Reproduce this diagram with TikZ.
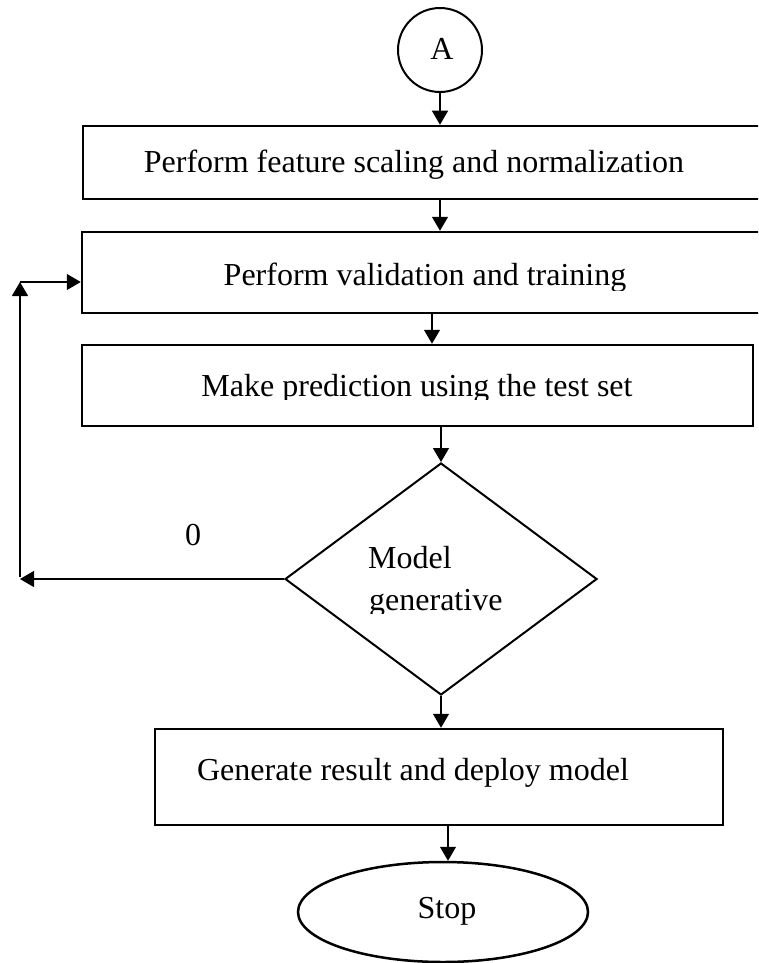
\documentclass[tikz,border=0pt]{standalone}
\usepackage{fontspec}
\setmainfont{Liberation Serif}
\usetikzlibrary{shapes.geometric,arrows.meta}
\begin{document}
\begin{tikzpicture}[x=1pt,y=-1pt,
  box/.style={draw,line width=2.5pt,rectangle,inner sep=0pt},
  arr/.style={line width=1.3pt,-{Triangle[width=16pt,length=14pt]}},
  txt/.style={font=\fontsize{32}{38}\selectfont,inner sep=0pt}]
\path[use as bounding box] (0,0) rectangle (758,963);
\clip (0,0) rectangle (758,963);
% shapes
\node[circle,draw,line width=2pt,minimum size=84pt,inner sep=0pt] (A) at (440,50) {};
\node[box,minimum width=687pt,minimum height=73pt] (b1) at (426.5,162.5) {};
\node[box,minimum width=688pt,minimum height=81pt] (b2) at (426,272.5) {};
\node[box,minimum width=671pt,minimum height=81pt] (b3) at (417.5,385.5) {};
\node[diamond,draw,line width=2pt,minimum width=312pt,minimum height=232pt,inner sep=0pt] (d) at (441,579) {};
\node[box,minimum width=568pt,minimum height=96pt] (b4) at (439,777) {};
\node[ellipse,draw,line width=2.5pt,minimum width=290pt,minimum height=100pt,inner sep=0pt] (stop) at (443,912) {};
% texts
\node[txt,anchor=base] (tA) at (442,60) {A};
\node[txt,anchor=base] (t1) at (414,172) {Perform feature scaling and normalization};
\begin{scope}
\clip (0,0) rectangle (758,290);
\node[txt,anchor=base] (t2) at (425,285) {Perform validation and training};
\end{scope}
\begin{scope}
\clip (0,0) rectangle (758,399);
\node[txt,anchor=base] (t3) at (417,396) {Make prediction using the test set};
\end{scope}
\node[txt,anchor=base west] (tm) at (368,568) {Model};
\begin{scope}
\clip (0,0) rectangle (758,613);
\node[txt,anchor=base west] (tg) at (369,610) {generative};
\end{scope}
\node[txt,anchor=base] (t4) at (413,780) {Generate result and deploy model};
\node[txt,anchor=base] (ts) at (447,918) {Stop};
\node[txt,anchor=base] (t0) at (193,545) {0};
% connectors
\draw[arr] (A.south) -- (A.south |- b1.north);
\draw[arr] (b1.south -| A.south) -- (b2.north -| A.south);
\draw[arr] ([xshift=-8pt]A.south |- b2.south) -- ([xshift=-8pt]A.south |- b3.north);
\draw[arr] (b3.south -| d.north) -- (d.north);
\draw[arr] (d.south) -- (d.south |- b4.north);
\draw[arr] ([xshift=5pt]stop.north |- b4.south) -- ([xshift=5pt]stop.north);
\coordinate (l1) at (20,577);
\coordinate (l2) at (20,282);
\draw[arr] (d.west) -- (d.west -| l1);
\draw[arr] (l1) -- (l2);
\draw[arr] (l2) -- (b2.west |- l2);
\end{tikzpicture}
\end{document}
